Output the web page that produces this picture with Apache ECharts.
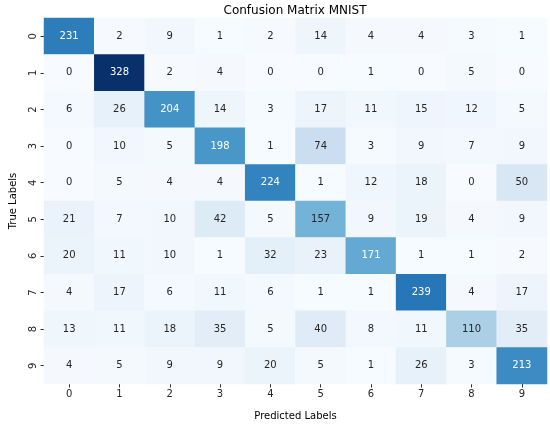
<!DOCTYPE html>
<html>
<head>
<meta charset="utf-8">
<script src="https://cdn.jsdelivr.net/npm/echarts@6/dist/echarts.min.js"></script>
<style>
  html, body { margin: 0; padding: 0; background: #fff; }
  #myChart { width: 550px; height: 426px; }
</style>
</head>
<body>
<div id="myChart"></div>
<script>
var predictedLabels = ['0', '1', '2', '3', '4', '5', '6', '7', '8', '9'];
var trueLabels = ['0', '1', '2', '3', '4', '5', '6', '7', '8', '9'];
// rows = true label, columns = predicted label
var matrix = [
  [231, 2, 9, 1, 2, 14, 4, 4, 3, 1],
  [0, 328, 2, 4, 0, 0, 1, 0, 5, 0],
  [6, 26, 204, 14, 3, 17, 11, 15, 12, 5],
  [0, 10, 5, 198, 1, 74, 3, 9, 7, 9],
  [0, 5, 4, 4, 224, 1, 12, 18, 0, 50],
  [21, 7, 10, 42, 5, 157, 9, 19, 4, 9],
  [20, 11, 10, 1, 32, 23, 171, 1, 1, 2],
  [4, 17, 6, 11, 6, 1, 1, 239, 4, 17],
  [13, 11, 18, 35, 5, 40, 8, 11, 110, 35],
  [4, 5, 9, 9, 20, 5, 1, 26, 3, 213]
];

// matplotlib "Blues"
var blues = ['#f7fbff', '#deebf7', '#c6dbef', '#9ecae1', '#6baed6', '#4292c6', '#2171b5', '#08519c', '#08306b'];

var vmax = 0;
var cells = [];
for (var i = 0; i < matrix.length; i++) {
  for (var j = 0; j < matrix[i].length; j++) {
    var v = matrix[i][j];
    if (v > vmax) vmax = v;
    cells.push({
      value: [j, i, v],
      label: { color: v > 165 ? '#ffffff' : '#262626' }
    });
  }
}

var myChart = echarts.init(document.getElementById('myChart'));
var option = {
  animation: false,
  title: {
    text: 'Confusion Matrix MNIST',
    left: 290,
    textAlign: 'center',
    top: 0,
    textStyle: {
      fontFamily: 'DejaVu Sans',
      fontSize: 12,
      fontWeight: 'normal',
      color: '#000'
    }
  },
  grid: { left: 33, right: 3, top: 18, bottom: 33 },
  xAxis: {
    type: 'category',
    data: predictedLabels,
    name: 'Predicted Labels',
    nameLocation: 'middle',
    nameGap: 27,
    nameTextStyle: { fontFamily: 'DejaVu Sans', fontSize: 10, color: '#000' },
    axisLine: { show: false },
    axisTick: { show: true, alignWithLabel: true, length: 3.5, lineStyle: { color: '#333' } },
    axisLabel: { fontFamily: 'DejaVu Sans', fontSize: 10, color: '#262626', margin: 5 },
    splitArea: { show: false }
  },
  yAxis: {
    type: 'category',
    data: trueLabels,
    inverse: true,
    name: 'True Labels',
    nameLocation: 'middle',
    nameGap: 26,
    nameTextStyle: { fontFamily: 'DejaVu Sans', fontSize: 10, color: '#000' },
    axisLine: { show: false },
    axisTick: { show: true, alignWithLabel: true, length: 3.5, lineStyle: { color: '#333' } },
    axisLabel: { fontFamily: 'DejaVu Sans', fontSize: 10, color: '#262626', rotate: 90, margin: 6 },
    splitArea: { show: false }
  },
  visualMap: {
    show: false,
    min: 0,
    max: vmax,
    dimension: 2,
    inRange: { color: blues }
  },
  series: [
    {
      type: 'heatmap',
      data: cells,
      label: {
        show: true,
        fontFamily: 'DejaVu Sans',
        fontSize: 10
      },
      itemStyle: { borderWidth: 0 },
      emphasis: { disabled: true }
    }
  ]
};
myChart.setOption(option);
</script>
</body>
</html>
